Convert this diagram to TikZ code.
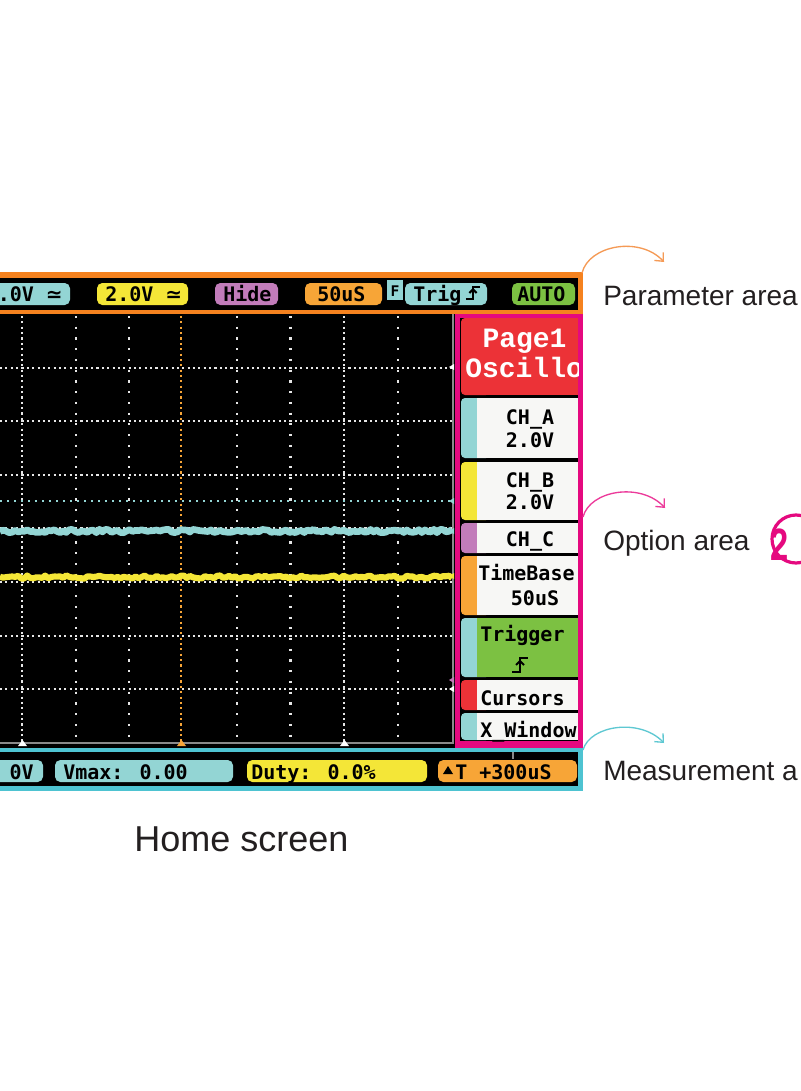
\documentclass[tikz,border=0pt]{standalone}
\usepackage{fontspec}
\setmainfont{Liberation Sans}
\newfontfamily\scrfont{DejaVu Sans Mono}
\newfontfamily\symfont{DejaVu Sans}
\newfontfamily\pagefont{Liberation Mono}
\usetikzlibrary{arrows.meta}
\definecolor{borange}{HTML}{F5821F}
\definecolor{bmag}{HTML}{E5097F}
\definecolor{bcyan}{HTML}{4EC3D1}
\definecolor{pcyan}{HTML}{93D5D4}
\definecolor{pyellow}{HTML}{F4E637}
\definecolor{ppurple}{HTML}{C27CBA}
\definecolor{porange}{HTML}{F7A537}
\definecolor{pgreen}{HTML}{7CC142}
\definecolor{pred}{HTML}{EC3237}
\definecolor{itemwhite}{HTML}{F7F7F5}
\definecolor{gridwhite}{HTML}{E6E6E6}
\definecolor{gridgray}{HTML}{8A8A8A}
\definecolor{arcorange}{HTML}{F59A55}
\definecolor{arcmag}{HTML}{EC3A9A}
\definecolor{arccyan}{HTML}{5EC8D2}
\definecolor{labelblack}{HTML}{231F20}
\tikzset{
  scr/.style={font=\scrfont\bfseries\fontsize{15}{15}\selectfont, inner sep=0pt, text=black},
  pagetxt/.style={font=\pagefont\bfseries\fontsize{21}{21}\selectfont, inner sep=0pt, text=white},
  lbl/.style={font=\fontsize{21}{21}\selectfont, text=labelblack, inner sep=0pt, anchor=base west},
  pillshape/.style={rounded corners=4pt},
  tabshape/.style={rounded corners=3pt},
  hdots/.style={gridwhite, line width=1.6pt, dash pattern=on 1.6pt off 2.42pt},
  vdots/.style={gridwhite, line width=1.6pt, dash pattern=on 1.6pt off 6.45pt},
  annot/.style={line width=1pt, -{Straight Barb[length=5pt,width=9pt]}},
  redge/.pic={
    \draw[line width=1.5pt] (-8,7) -- (0,7) -- (0,-7) -- (8,-7);
    \draw[line width=1.5pt] (-4,0) -- (0,-4) -- (4,0);
  },
}
\begin{document}
\begin{tikzpicture}[x=0.75pt, y=-0.75pt]
\useasboundingbox (0,0) rectangle (800,1091);
\fill[white] (0,0) rectangle (800,1091);

% ---------- parameter bar ----------
\fill[borange] (-10,272) rectangle (583,314);
\fill[black] (-10,278) rectangle (578,310);
\fill[pcyan, pillshape] (-20,283) rectangle (70,305);
\fill[pyellow, pillshape] (97,283) rectangle (188,305);
\fill[ppurple, pillshape] (215,283) rectangle (278,305);
\fill[porange, pillshape] (305,283) rectangle (382,305);
\fill[pcyan] (387,280) rectangle (403,300);
\fill[pcyan, pillshape] (405,283) rectangle (487,305);
\fill[pgreen, pillshape] (512,283) rectangle (575,305);
\node[scr, anchor=base east] (pchA) at (63,301) {.0V {\symfont\bfseries ≃}};
\node[scr, anchor=base west] (pchB) at (105,301) {2.0V {\symfont\bfseries ≃}};
\node[scr, anchor=base west] (pchC) at (223,301) {Hide};
\node[scr, anchor=base west] (ptb) at (317,301) {50uS};
\node[scr, font=\scrfont\bfseries\fontsize{11}{11}\selectfont, anchor=base] (pf) at (395,296) {F};
\node[scr, anchor=base west] (ptrig) at (413,301) {Trig};
\pic[scale=0.9] at (473,293) {redge};
\node[scr, anchor=base west] (pauto) at (517,301) {AUTO};

% ---------- waveform area ----------
\fill[black] (-10,314) rectangle (455,748);
\foreach \k in {1,...,7} { \draw[hdots] (0,{314+53.6*\k}) -- (453,{314+53.6*\k}); }
\foreach \xx in {75.7,129.4,236.8,290.5,397.9} { \draw[vdots] (\xx,316) -- (\xx,743); }
\foreach \xx in {22,344.2} { \draw[hdots] (\xx,316) -- (\xx,743); }
\draw[porange, line width=1.6pt, dash pattern=on 1.6pt off 2.42pt] (181,316) -- (181,743);
\draw[pcyan, line width=1.6pt, dash pattern=on 1.6pt off 3.65pt] (0,501) -- (453,501);
\draw[gridgray, line width=1.2pt] (0,743) -- (453,743) -- (453,314);
\pgfmathsetseed{7}
\draw[pcyan, line width=5pt, line join=round] plot[domain=0:452, samples=151] (\x,{531+1.7*rand});
\draw[pyellow, line width=4.6pt, line join=round] plot[domain=0:452, samples=151] (\x,{577+1.6*rand});
\fill[white] (18,746) -- (27,746) -- (22.5,740) -- cycle;
\fill[porange] (177,746) -- (186,746) -- (181.5,740) -- cycle;
\fill[white] (340,746) -- (349,746) -- (344.5,740) -- cycle;
\fill[white] (449,367) -- (454,364) -- (454,370) -- cycle;
\fill[pcyan] (449,501) -- (454,498) -- (454,504) -- cycle;
\fill[pcyan] (449,531) -- (454,528) -- (454,534) -- cycle;
\fill[pyellow] (449,576) -- (454,573) -- (454,579) -- cycle;
\fill[ppurple] (449,680) -- (454,677) -- (454,683) -- cycle;
\fill[white] (449,689) -- (454,686) -- (454,692) -- cycle;

% ---------- option area ----------
\fill[bmag] (455,314) rectangle (583,748);
\fill[black] (460,318) rectangle (578,741);
\begin{scope}
\clip (460,318) rectangle (578,741);
\fill[pred, tabshape] (461,318) rectangle (490,395);
\fill[pred] (477,318) rectangle (578,395);
\node[pagetxt, anchor=base] (opage) at (524.5,347) {Page1};
\node[pagetxt, anchor=base west] (oosc) at (465,377) {Oscillo};
\fill[pcyan, tabshape] (461,398) rectangle (490,458);
\fill[itemwhite] (477,398) rectangle (578,458);
\node[scr, anchor=base] (ocha) at (530,424) {CH\_A};
\node[scr, anchor=base] (ochav) at (530,447) {2.0V};
\fill[pyellow, tabshape] (461,462) rectangle (490,520);
\fill[itemwhite] (477,462) rectangle (578,520);
\node[scr, anchor=base] (ochb) at (530,487) {CH\_B};
\node[scr, anchor=base] (ochbv) at (530,509) {2.0V};
\fill[ppurple, tabshape] (461,523) rectangle (490,553);
\fill[itemwhite] (477,523) rectangle (578,553);
\node[scr, anchor=base] (ochc) at (530,546) {CH\_C};
\fill[porange, tabshape] (461,556) rectangle (490,615);
\fill[itemwhite] (477,556) rectangle (578,615);
\node[scr, anchor=base west] (otb) at (478,580) {TimeBase};
\node[scr, anchor=base] (otbv) at (535,605) {50uS};
\fill[pcyan, tabshape] (461,618) rectangle (490,677);
\fill[pgreen] (477,618) rectangle (578,677);
\node[scr, anchor=base west] (otrig) at (480,641) {Trigger};
\pic at (520,665) {redge};
\fill[pred, tabshape] (461,680) rectangle (490,710);
\fill[itemwhite] (477,680) rectangle (578,710);
\node[scr, anchor=base west] (ocur) at (480,705) {Cursors};
\fill[pcyan, tabshape] (461,713) rectangle (490,740);
\fill[itemwhite] (477,713) rectangle (578,740);
\node[scr, anchor=base west] (oxw) at (480,737) {X\_Window};
\end{scope}

% ---------- measurement bar ----------
\fill[bcyan] (-10,748) rectangle (583,791);
\fill[black] (-10,752) rectangle (578,786);
\draw[gridgray, line width=0.8pt] (513,752) -- (513,759);
\fill[pcyan, pillshape] (-20,760) rectangle (43,782);
\fill[pcyan, pillshape] (55,760) rectangle (233,782);
\fill[pyellow, pillshape] (247,760) rectangle (427,782);
\fill[porange, pillshape] (438,760) rectangle (577,782);
\node[scr, anchor=base east] (mvmin) at (34,779) {0V};
\node[scr, anchor=base west] (mvmax) at (63,779) {Vmax: 0.00};
\node[scr, anchor=base west] (mduty) at (251,779) {Duty: 0.0\%};
\fill[black] (443,774) -- (453,774) -- (448,766) -- cycle;
\node[scr, anchor=base west] (mdt) at (455,779) {T +300uS};

% ---------- annotations ----------
\coordinate (aparam) at (582,273);
\coordinate (eparam) at (664,262);
\coordinate (aopt) at (583,517);
\coordinate (eopt) at (665,508);
\coordinate (ameas) at (583,750);
\coordinate (emeas) at (664,743);
\draw[annot, arcorange] (aparam) .. controls (589,245) and (640,236) .. (eparam);
\draw[annot, arcmag] (aopt) .. controls (590,490) and (641,482) .. (eopt);
\draw[annot, arccyan] (ameas) .. controls (590,725) and (640,718) .. (emeas);
\node[lbl] (lparam) at (603,305) {Parameter area};
\node[lbl] (lopt) at (603,550) {Option area};
\node[lbl] (lmeas) at (603,780) {Measurement a};
\node[circle, draw=bmag, line width=2.4pt, minimum size=36pt, inner sep=0pt] (ring) at (796,539) {};
\node[font=\bfseries\fontsize{34}{34}\selectfont, text=bmag, inner sep=0pt] (two) at (780,545) {\scalebox{0.72}[1]{2}};
\node[font=\fontsize{27}{27}\selectfont, text=labelblack, inner sep=0pt, anchor=base] (home) at (241.5,851) {Home screen};
\end{tikzpicture}
\end{document}
